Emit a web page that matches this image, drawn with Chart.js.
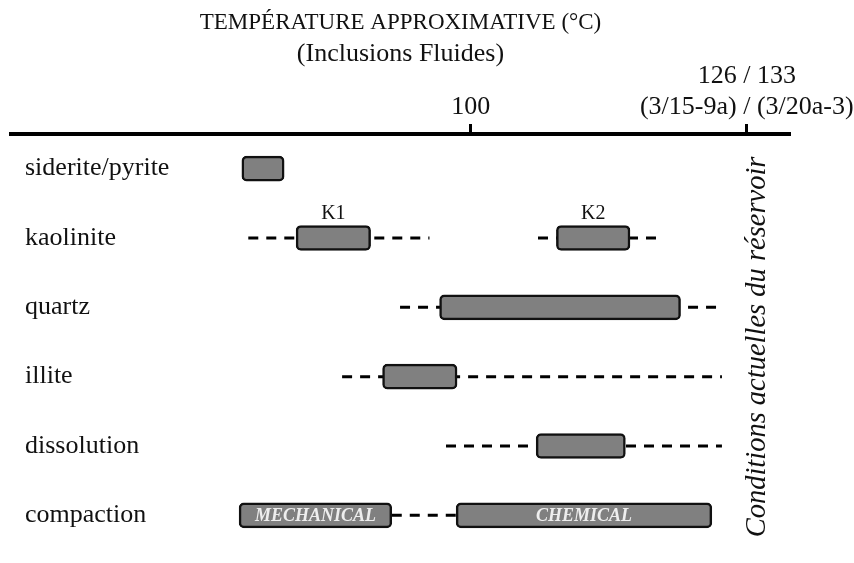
<!DOCTYPE html>
<html>
<head>
<meta charset="utf-8">
<script src="https://cdn.jsdelivr.net/npm/chart.js@4.4.1/dist/chart.umd.min.js"></script>
<style>
  body { margin: 0; background: #fff; }
  #wrap { width: 854px; height: 563px; position: relative; }
</style>
</head>
<body>
<div id="wrap"><canvas id="diagenese"></canvas></div>
<script>
// rows of the paragenetic sequence
const rows = ['siderite/pyrite', 'kaolinite', 'quartz', 'illite', 'dissolution', 'compaction'];

// main bar per row (temperature, °C)
const mainStart = [75.1, 81.0, 96.6, 90.4, 107.1, 74.8];
const mainEnd   = [79.7, 89.1, 122.8, 98.5, 116.8, 91.4];
// second bar (K2, chemical compaction)
const extraStart = [null, 109.3, null, null, null, 98.4];
const extraEnd   = [null, 117.3, null, null, null, 126.2];

// dashed extensions
const dashRow  = ['kaolinite', 'kaolinite', 'quartz', 'illite', 'dissolution', 'compaction'];
const dashFrom = [75.8, 107.3, 92.3, 86.0, 97.3, 91.4];
const dashTo   = [95.5, 120.3, 127.3, 127.3, 127.3, 98.4];

// axis ticks
const tickValues = [100, 130];
const tickLabels = ['100', ['126 / 133', '(3/15-9a) / (3/20a-3)']];

// notes on bars
const mainNotes  = ['', 'K1', '', '', '', 'MECHANICAL'];
const extraNotes = ['', 'K2', '', '', '', 'CHEMICAL'];
const insideRows = ['compaction'];
const sideNote = 'Conditions actuelles du réservoir';

const SERIF = "'Liberation Serif', 'Times New Roman', serif";

function pairs(a, b) {
  return a.map(function(v, i) { return v === null ? null : [v, b[i]]; });
}

// axes should not push the plot area around
function noPadding(axis) {
  axis.paddingLeft = 0;
  axis.paddingRight = 0;
  axis.paddingTop = 0;
  axis.paddingBottom = 0;
}

const barStyle = {
  backgroundColor: '#808080',
  borderColor: '#111',
  borderWidth: 2.5,
  borderSkipped: false,
  borderRadius: 5,
  barThickness: 25,
  grouped: false,
  order: 1
};

const datasets = [
  Object.assign({ label: 'main', data: pairs(mainStart, mainEnd) }, barStyle),
  Object.assign({ label: 'extra', data: pairs(extraStart, extraEnd) }, barStyle)
];

dashRow.forEach(function(r, i) {
  datasets.push({
    type: 'line',
    label: 'dash' + i,
    data: [{ x: dashFrom[i], y: r }, { x: dashTo[i], y: r }],
    borderColor: '#000',
    borderWidth: 3,
    borderDash: [10, 8],
    pointRadius: 0,
    fill: false,
    order: 2
  });
});

// K1/K2 above bars, MECHANICAL/CHEMICAL inside, rotated note on the right
const notesPlugin = {
  id: 'notes',
  afterDatasetsDraw(chart) {
    const ctx = chart.ctx;
    const area = chart.chartArea;
    [mainNotes, extraNotes].forEach(function(notes, d) {
      const meta = chart.getDatasetMeta(d);
      notes.forEach(function(txt, i) {
        if (!txt || !meta.data[i]) return;
        const p = meta.data[i].getProps(['x', 'y', 'base', 'height'], true);
        const cx = (p.x + p.base) / 2;
        ctx.save();
        ctx.textAlign = 'center';
        if (insideRows.indexOf(rows[i]) >= 0) {
          ctx.font = 'italic bold 18px ' + SERIF;
          ctx.fillStyle = '#eee';
          ctx.textBaseline = 'middle';
          ctx.fillText(txt, cx, p.y + 1);
        } else {
          ctx.font = '20px ' + SERIF;
          ctx.fillStyle = '#111';
          ctx.textBaseline = 'alphabetic';
          ctx.fillText(txt, cx, p.y - p.height / 2 - 6);
        }
        ctx.restore();
      });
    });
    const xs = chart.scales.x;
    ctx.save();
    ctx.translate(xs.getPixelForValue(tickValues[1]) + 11, (area.top + area.bottom) / 2 + 5);
    ctx.rotate(-Math.PI / 2);
    ctx.font = 'italic 28.5px ' + SERIF;
    ctx.fillStyle = '#111';
    ctx.textAlign = 'center';
    ctx.textBaseline = 'middle';
    ctx.fillText(sideNote, 0, 0);
    ctx.restore();
  }
};

new Chart(document.getElementById('diagenese'), {
  type: 'bar',
  data: { labels: rows, datasets: datasets },
  plugins: [notesPlugin],
  options: {
    indexAxis: 'y',
    responsive: true,
    maintainAspectRatio: false,
    animation: false,
    events: [],
    layout: { padding: { top: 0, left: 11, right: 64, bottom: 13 } },
    plugins: {
      legend: { display: false },
      tooltip: { enabled: false },
      title: {
        display: true,
        text: 'TEMPÉRATURE APPROXIMATIVE (°C)',
        color: '#111',
        font: { family: SERIF, size: 23, weight: 'normal', lineHeight: 1.2 },
        padding: { top: 9, bottom: 0 }
      },
      subtitle: {
        display: true,
        text: '(Inclusions Fluides)',
        color: '#111',
        font: { family: SERIF, size: 26, weight: 'normal', lineHeight: 0.43 },
        padding: { top: 11.8, bottom: 0 }
      }
    },
    scales: {
      x: {
        type: 'linear',
        position: 'top',
        min: 50,
        max: 134.7,
        afterBuildTicks: function(axis) {
          axis.ticks = tickValues.map(function(v) { return { value: v }; });
        },
        afterFit: noPadding,
        ticks: {
          color: '#111',
          padding: 1,
          maxRotation: 0,
          autoSkip: false,
          font: { family: SERIF, size: 26, lineHeight: 1.2 },
          callback: function(v, i) { return tickLabels[i]; }
        },
        grid: {
          drawOnChartArea: false,
          drawTicks: true,
          tickLength: 10,
          tickWidth: 3,
          tickColor: '#000'
        },
        border: { display: true, color: '#000', width: 4 }
      },
      y: {
        type: 'category',
        afterFit: function(axis) { axis.width = 0; noPadding(axis); },
        ticks: {
          mirror: true,
          padding: 14,
          color: '#111',
          font: { family: SERIF, size: 26 }
        },
        grid: { display: false, drawTicks: false },
        border: { display: false }
      }
    }
  }
});
</script>
</body>
</html>
